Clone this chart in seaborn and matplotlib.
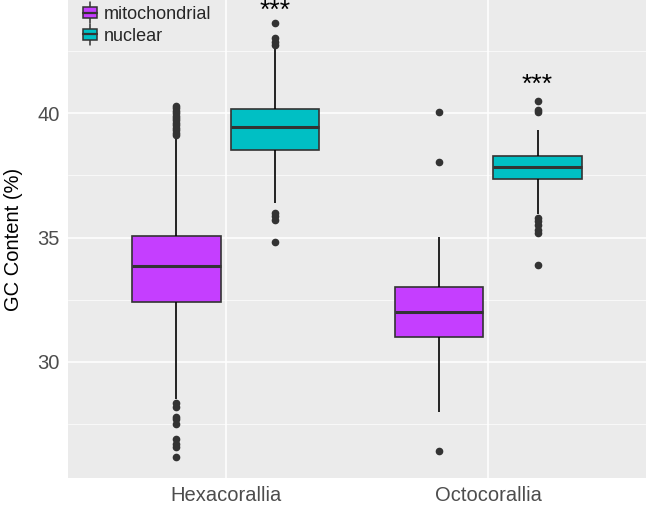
import matplotlib
matplotlib.use("Agg")
import matplotlib.pyplot as plt
from matplotlib.legend_handler import HandlerBase
from matplotlib.lines import Line2D
from matplotlib.patches import Rectangle
from matplotlib.ticker import MultipleLocator
import pandas as pd
import seaborn as sns

clades = ["Hexacorallia", "Octocorallia"]
genomes = ["mitochondrial", "nuclear"]
colors = ["#C53EFF", "#00BFC4"]

# box summaries: whisker low, q1, median, q3, whisker high
hexa_mito_box = [28.5, 32.40, 33.87, 35.06, 39.0]
hexa_nuc_box = [36.4, 38.53, 39.45, 40.17, 42.6]
octo_mito_box = [28.0, 31.0, 32.0, 33.01, 35.03]
octo_nuc_box = [35.96, 37.34, 37.84, 38.27, 39.3]

# outlier points
hexa_mito_out = [26.2, 26.6, 26.7, 26.9, 27.5, 27.7, 27.8, 28.2, 28.35,
                 39.1, 39.2, 39.3, 39.4, 39.5, 39.6, 39.7, 39.8, 39.9,
                 40.0, 40.1, 40.2, 40.3]
hexa_nuc_out = [34.8, 35.7, 35.85, 36.0, 42.75, 42.85, 43.0, 43.63]
octo_mito_out = [26.43, 38.02, 40.03]
octo_nuc_out = [33.9, 35.2, 35.3, 35.5, 35.65, 35.8, 40.05, 40.12, 40.48]

stars = ["***", "***"]
star_y = [44.1, 41.15]


def sample_from_box(box, outliers, k=200):
    """rebuild a sample whose quartiles / whiskers equal the read values"""
    lo, q1, med, q3, hi = box
    return list(outliers) + [lo] + [q1] * k + [med] * k + [q3] * k + [hi]


class BoxKey(HandlerBase):
    """ggplot-like boxplot legend key"""
    def create_artists(self, legend, orig_handle, xdescent, ydescent,
                       width, height, fontsize, trans):
        fc = orig_handle.get_facecolor()
        cx = -xdescent + width / 2
        y0 = -ydescent
        bw = width
        bh = height * 0.75
        by = y0 + (height - bh) / 2
        whisk = Line2D([cx, cx], [y0 - 2, y0 + height + 2], color="#333333",
                       lw=1.1, transform=trans)
        box = Rectangle((cx - bw / 2, by), bw, bh, facecolor=fc,
                        edgecolor="#333333", lw=1.1, transform=trans)
        med = Line2D([cx - bw / 2, cx + bw / 2], [by + bh / 2, by + bh / 2],
                     color="#333333", lw=1.6, transform=trans)
        return [whisk, box, med]


groups = [
    ("Hexacorallia", "mitochondrial", hexa_mito_box, hexa_mito_out),
    ("Hexacorallia", "nuclear", hexa_nuc_box, hexa_nuc_out),
    ("Octocorallia", "mitochondrial", octo_mito_box, octo_mito_out),
    ("Octocorallia", "nuclear", octo_nuc_box, octo_nuc_out),
]
rows = []
for clade, genome, box, out in groups:
    for v in sample_from_box(box, out):
        rows.append({"clade": clade, "genome": genome, "gc": v})
df = pd.DataFrame(rows)

sns.set_theme(style="darkgrid", rc={
    "axes.facecolor": "#EBEBEB",
    "grid.color": "white",
    "grid.linewidth": 1.1,
})
plt.rcParams["font.family"] = ["Liberation Sans", "DejaVu Sans"]

fig = plt.figure(figsize=(6.46, 5.11), dpi=100)
ax = fig.add_axes([68 / 646, 1 - 478 / 511, (646 - 68) / 646, 478 / 511])

sns.boxplot(data=df, x="clade", y="gc", hue="genome", order=clades,
            hue_order=genomes, palette=colors, width=0.75, gap=0.1,
            linewidth=1.2, linecolor="#333333", showcaps=False, saturation=1,
            flierprops=dict(marker="o", markersize=4.5,
                            markerfacecolor="#333333",
                            markeredgecolor="#333333"),
            medianprops=dict(linewidth=2.2, color="#333333"),
            whiskerprops=dict(color="black", linewidth=1.2),
            legend=False, ax=ax)

for i, s in enumerate(stars):
    ax.text(i + 0.1875, star_y[i], s, ha="center", va="center",
            fontsize=19, color="black")

ax.set_xlim(-0.6, 1.6)
ax.set_ylim(25.34, 44.54)
ax.yaxis.set_major_locator(MultipleLocator(5))
ax.yaxis.set_minor_locator(MultipleLocator(2.5))
ax.grid(which="minor", axis="y", color="white", linewidth=0.5)
ax.grid(which="major", color="white", linewidth=1.1)
ax.set_axisbelow(True)
ax.tick_params(axis="both", which="major", length=4, width=0.8,
               color="#333333", labelsize=14.5, labelcolor="#4D4D4D", pad=2)
ax.tick_params(which="minor", length=0)
for sp in ax.spines.values():
    sp.set_visible(False)

ax.set_xlabel("")
ax.set_ylabel("GC Content (%)", fontsize=14.5, color="black", labelpad=10)

handles = [Rectangle((0, 0), 1, 1, facecolor=c) for c in colors]
ax.legend(handles, genomes, handler_map={Rectangle: BoxKey()},
          loc="upper left", bbox_to_anchor=(0.008, 1.01), frameon=False,
          fontsize=13, handlelength=0.8, handleheight=0.9,
          handletextpad=0.4, labelspacing=0.22, borderaxespad=0.15)

fig.savefig("out.png", dpi=100)
